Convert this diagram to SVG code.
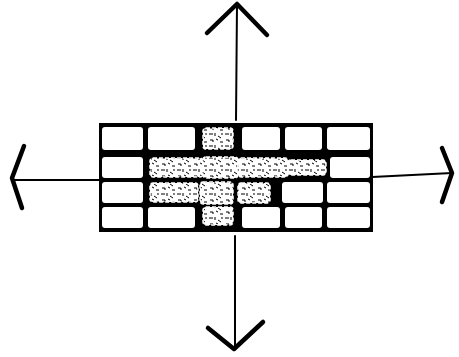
<svg xmlns="http://www.w3.org/2000/svg" width="459" height="357" viewBox="0 0 459 357">
<style>
.ax{fill:none;stroke:#000;stroke-width:2;stroke-linecap:round}
.hd{fill:none;stroke:#000;stroke-width:4.5;stroke-linecap:round;stroke-linejoin:round}
.t{fill:#fff}
.x{fill:url(#tex);stroke:#fff;stroke-width:1.5;stroke-dasharray:4 2}
</style>
<defs>
<pattern id="tex" width="16" height="12" patternUnits="userSpaceOnUse">
<rect width="16" height="12" fill="#fff"/>
<path d="M1 2h4M7 1v3M10 4l3 2M2 8h3v2M8 7l2 1M12 10h3M14 1v2" stroke="#000" stroke-width="1" fill="none"/>
</pattern>
</defs>
<g id="connectors">
<path class="ax" d="M237 4 L236 120 M235 236 L235 348"/>
<path class="ax" d="M12 180 L100 180 M372 177 L452 173"/>
<path class="hd" d="M207 33 L237 4 L267 35"/>
<path class="hd" d="M208 328 L234 349 L263 322"/>
<path class="hd" d="M24 146 L12 178 L22 208"/>
<path class="hd" d="M442 148 L452 173 L442 202"/>
</g>
<g id="grid">
<rect x="99" y="123" width="274" height="109" fill="#000"/>
<rect class="t" x="102" y="127" width="41" height="23" rx="3"/>
<rect class="t" x="148" y="127" width="47" height="23" rx="3"/>
<rect class="x" x="203" y="128" width="30" height="21" rx="3"/>
<rect class="t" x="242" y="127" width="38" height="23" rx="3"/>
<rect class="t" x="285" y="127" width="37" height="23" rx="3"/>
<rect class="t" x="327" y="127" width="43" height="23" rx="3"/>
<rect class="t" x="102" y="157" width="41" height="21" rx="3"/>
<rect class="x" x="150" y="158" width="53" height="19" rx="3"/>
<rect class="x" x="203" y="157" width="35" height="21" rx="3"/>
<rect class="x" x="238" y="158" width="50" height="19" rx="3"/>
<rect class="x" x="288" y="160" width="38" height="15" rx="3"/>
<rect class="t" x="330" y="157" width="40" height="21" rx="3"/>
<rect class="t" x="102" y="182" width="41" height="21" rx="3"/>
<rect class="x" x="150" y="183" width="48" height="19" rx="3"/>
<rect class="x" x="200" y="182" width="33" height="22" rx="3"/>
<rect class="x" x="238" y="183" width="32" height="20" rx="3"/>
<rect class="t" x="282" y="182" width="41" height="21" rx="3"/>
<rect class="t" x="327" y="182" width="43" height="21" rx="3"/>
<rect class="t" x="102" y="207" width="41" height="21" rx="3"/>
<rect class="t" x="148" y="207" width="47" height="21" rx="3"/>
<rect class="x" x="203" y="207" width="30" height="18" rx="3"/>
<rect class="t" x="242" y="207" width="38" height="21" rx="3"/>
<rect class="t" x="285" y="207" width="37" height="21" rx="3"/>
<rect class="t" x="327" y="207" width="43" height="21" rx="3"/>
</g>
</svg>
